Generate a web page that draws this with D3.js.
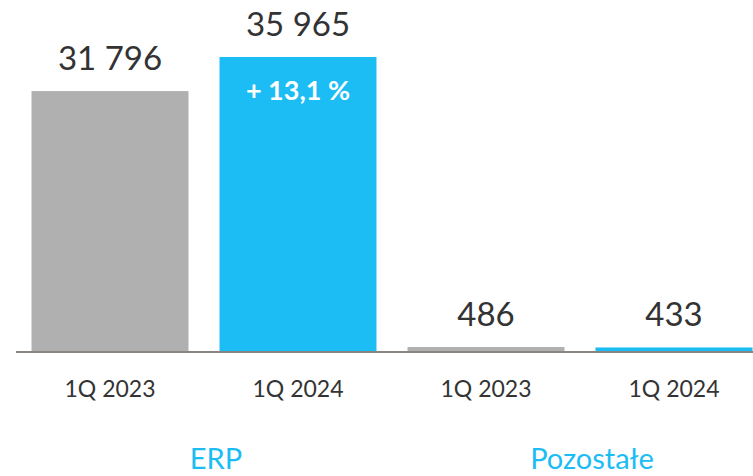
<!DOCTYPE html>
<html>
<head>
<meta charset="utf-8">
<script src="https://cdn.jsdelivr.net/npm/d3@7"></script>
<style>
  html, body { margin: 0; padding: 0; background: #fff; }
  svg { display: block; font-family: Lato, "Open Sans", sans-serif; }
</style>
</head>
<body>
<div id="chart"></div>
<script>
const categories = ["ERP-2023", "ERP-2024", "Poz-2023", "Poz-2024"];
const tickLabels = ["1Q 2023", "1Q 2024", "1Q 2023", "1Q 2024"];
const values = [31796, 35965, 486, 433];
const valueLabels = ["31 796", "35 965", "486", "433"];
const groups = ["ERP", "Pozostałe"];
const groupMembers = [["ERP-2023", "ERP-2024"], ["Poz-2023", "Poz-2024"]];
const changeLabel = "+ 13,1 %";

const width = 753, height = 476;
const baseY = 351;

const svg = d3.select('#chart')
    .append('svg')
    .attr('width', width)
    .attr('height', height);

const x = d3.scaleBand()
    .domain(categories)
    .range([16, 768])
    .paddingInner(0.165)
    .paddingOuter(0.0825);

const y = d3.scaleLinear()
    .domain([0, 40000])
    .range([baseY, 24]);

const color = d3.scaleOrdinal()
    .domain(categories)
    .range(['#b0b0b0', '#1cbcf5', '#b0b0b0', '#1cbcf5']);

// bars
svg.append('g')
    .selectAll('rect')
    .data(values)
    .join('rect')
    .attr('x', (d, i) => x(categories[i]))
    .attr('y', d => y(d))
    .attr('width', x.bandwidth())
    .attr('height', d => baseY - y(d))
    .attr('fill', (d, i) => color(categories[i]));

// axis line
svg.append('line')
    .attr('x1', 16)
    .attr('x2', width)
    .attr('y1', baseY + 1)
    .attr('y2', baseY + 1)
    .attr('stroke', '#8a8580')
    .attr('stroke-width', 2);

// value labels
svg.append('g')
    .selectAll('text')
    .data(values)
    .join('text')
    .attr('x', (d, i) => x(categories[i]) + x.bandwidth() / 2)
    .attr('y', d => y(d) - 21)
    .attr('text-anchor', 'middle')
    .attr('font-size', 33)
    .attr('fill', '#333')
    .text((d, i) => valueLabels[i]);

// change label inside 2024 ERP bar
svg.append('text')
    .attr('x', x(categories[1]) + x.bandwidth() / 2)
    .attr('y', y(values[1]) + 43)
    .attr('text-anchor', 'middle')
    .attr('font-size', 27)
    .attr('font-weight', 'bold')
    .attr('fill', '#fff')
    .text(changeLabel);

// category tick labels
svg.append('g')
    .selectAll('text')
    .data(tickLabels)
    .join('text')
    .attr('x', (d, i) => x(categories[i]) + x.bandwidth() / 2)
    .attr('y', 397)
    .attr('text-anchor', 'middle')
    .attr('font-size', 23)
    .attr('fill', '#333')
    .text(d => d);

// group labels
svg.append('g')
    .selectAll('text')
    .data(groups)
    .join('text')
    .attr('x', (d, i) => {
        const m = groupMembers[i];
        return (x(m[0]) + x(m[1]) + x.bandwidth()) / 2 + 12;
    })
    .attr('y', 469)
    .attr('text-anchor', 'middle')
    .attr('font-size', 29)
    .attr('fill', '#1cbcf5')
    .text(d => d);
</script>
</body>
</html>
